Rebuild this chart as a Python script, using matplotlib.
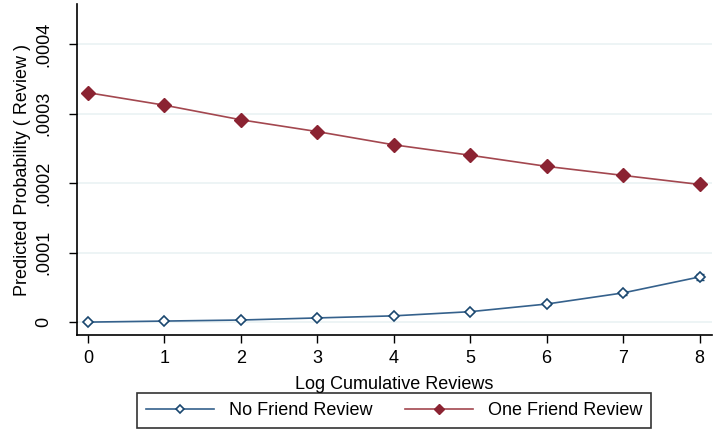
import matplotlib
matplotlib.use("Agg")
import matplotlib.pyplot as plt

plt.rcParams["font.family"] = ["Liberation Sans", "DejaVu Sans"]

x = [0, 1, 2, 3, 4, 5, 6, 7, 8]
no_friend = [0.0, 0.0000015, 0.000003, 0.000006, 0.000009, 0.000015, 0.000026, 0.000042, 0.000065]
no_friend_ci = [0.0, 0.0, 0.0, 0.0, 0.0000005, 0.000001, 0.0000015, 0.0000025, 0.000004]
one_friend = [0.000330, 0.000312, 0.000291, 0.000274, 0.000255, 0.000240, 0.000224, 0.000211, 0.000198]
yticks = [0, 0.0001, 0.0002, 0.0003, 0.0004]
ytick_labels = ["0", ".0001", ".0002", ".0003", ".0004"]

navy_line = "#35618c"
navy = "#1a476f"
maroon_line = "#a3474f"
maroon = "#8b2332"

fig = plt.figure(figsize=(7.19, 4.37), dpi=100)
ax = fig.add_axes([0.107, 0.233, 0.883, 0.757])

ax.errorbar(x, no_friend, yerr=no_friend_ci, fmt="none", ecolor=navy,
            elinewidth=1.0, capsize=3, capthick=1.0, zorder=2)
ax.plot(x, no_friend, color=navy_line, lw=1.2, marker="D", markersize=5,
        markerfacecolor="white", markeredgecolor=navy, markeredgewidth=1.2,
        label="No Friend Review", zorder=3)
ax.plot(x, one_friend, color=maroon_line, lw=1.2, marker="D", markersize=7,
        markerfacecolor=maroon, markeredgecolor=maroon,
        label="One Friend Review", zorder=3)

ax.set_xlim(-0.144, 8.16)
ax.set_ylim(-0.0000188, 0.000457)
ax.set_xticks(x)
ax.set_yticks(yticks)
ax.set_yticklabels(ytick_labels, rotation=90, va="center")
ax.yaxis.grid(True, color="#eaf2f3", lw=1.2)
ax.set_axisbelow(True)
for s in ["top", "right"]:
    ax.spines[s].set_visible(False)
for s in ["left", "bottom"]:
    ax.spines[s].set_color("black")
    ax.spines[s].set_linewidth(1.2)
ax.tick_params(axis="both", labelsize=13, length=6, width=1.0, colors="black")
ax.tick_params(axis="y", pad=12)
ax.tick_params(axis="x", pad=5)
ax.set_xlabel("Log Cumulative Reviews", fontsize=13, labelpad=6)
ax.set_ylabel("Predicted Probability ( Review )", fontsize=13, labelpad=3)

leg = fig.legend(loc="lower center", bbox_to_anchor=(0.548, 0.02), ncol=2,
                 fontsize=13, frameon=True, fancybox=False, edgecolor="black",
                 handlelength=3.8, handletextpad=0.8, columnspacing=1.8,
                 borderpad=0.5, borderaxespad=0.0, markerscale=0.8)
leg.get_frame().set_linewidth(1.2)

fig.savefig("out.png", dpi=100)
